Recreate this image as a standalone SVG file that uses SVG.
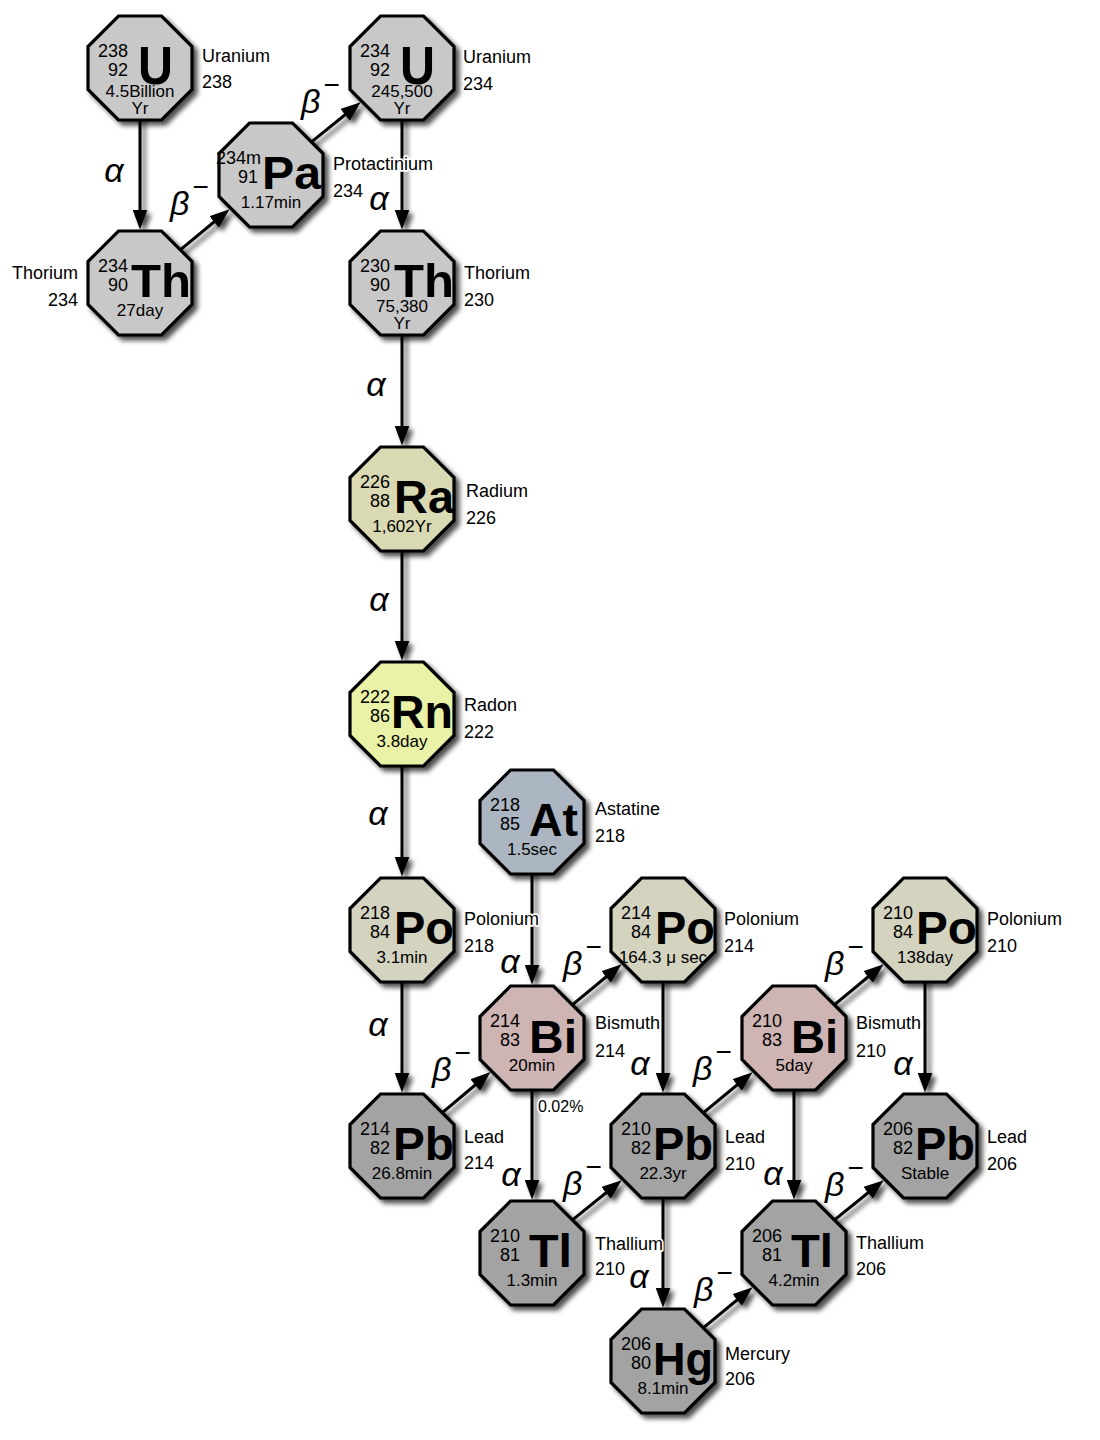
<svg xmlns="http://www.w3.org/2000/svg" xmlns:xlink="http://www.w3.org/1999/xlink" width="1100" height="1440" viewBox="0 0 1100 1440">
<style>
text{font-family:"Liberation Sans","DejaVu Sans",Arial,sans-serif;fill:#000}
.oct{stroke:#000;stroke-width:3.2;stroke-linejoin:miter;filter:url(#sh)}
.gray{fill:#c8c8c8}.ra{fill:#d9d9b3}.rn{fill:#e9f2a6}.at{fill:#abb6c2}.po{fill:#d3d3bf}.bi{fill:#cfb4b4}.pb{fill:#a3a3a3}
.num{font-size:18px;text-anchor:end}
.sym{font-size:47px;font-weight:bold}
.symU{font-size:54px;font-weight:bold}
.hl{font-size:17px;text-anchor:middle}
.lbl{font-size:18px;stroke:#fff;stroke-width:3.5px;stroke-linejoin:round;paint-order:stroke}
.lblL{font-size:18px;text-anchor:end}
.a{font-size:34px;font-style:italic;text-anchor:middle}
.b{font-size:34px;font-style:italic}
.m{font-size:28px;font-style:normal}
.conn line{stroke:#000;stroke-width:3;marker-end:url(#ah)}
</style>
<defs>
<filter id="sh" x="-20%" y="-20%" width="150%" height="150%">
<feGaussianBlur in="SourceAlpha" stdDeviation="2.5"/>
<feOffset dx="4" dy="4"/>
<feComponentTransfer><feFuncA type="linear" slope="0.7"/></feComponentTransfer>
<feMerge><feMergeNode/><feMergeNode in="SourceGraphic"/></feMerge>
</filter>
<marker id="ah" markerUnits="userSpaceOnUse" markerWidth="20" markerHeight="15" refX="10" refY="7.5" orient="auto">
<path d="M0,0 L20,7.5 L0,15 z" fill="#000"/>
</marker>
<polygon id="oct" points="-21.5,-52 21.5,-52 52,-21.5 52,21.5 21.5,52 -21.5,52 -52,21.5 -52,-21.5"/>
</defs>

<g id="connectors" class="conn" filter="url(#sh)">
<line x1="140" y1="108" x2="140" y2="219.5"/>
<line x1="402" y1="108" x2="402" y2="219.5"/>
<line x1="402" y1="323" x2="402" y2="435.5"/>
<line x1="402" y1="539" x2="402" y2="650.5"/>
<line x1="402" y1="754" x2="402" y2="866.5"/>
<line x1="402" y1="970" x2="402" y2="1082.5"/>
<line x1="532" y1="862" x2="532" y2="974.5"/>
<line x1="532" y1="1078" x2="532" y2="1189.5"/>
<line x1="663" y1="970" x2="663" y2="1082.5"/>
<line x1="663" y1="1186" x2="663" y2="1297.5"/>
<line x1="794" y1="1078" x2="794" y2="1189.5"/>
<line x1="925" y1="970" x2="925" y2="1082.5"/>
<line x1="170.9" y1="257.6" x2="221.85" y2="215.52"/>
<line x1="301.9" y1="149.6" x2="352.85" y2="108.52"/>
<line x1="432.9" y1="1120.6" x2="482.85" y2="1078.52"/>
<line x1="562.9" y1="1012.6" x2="613.85" y2="970.52"/>
<line x1="562.9" y1="1227.6" x2="613.85" y2="1186.52"/>
<line x1="693.9" y1="1120.6" x2="744.85" y2="1078.52"/>
<line x1="693.9" y1="1335.6" x2="744.85" y2="1293.52"/>
<line x1="824.9" y1="1012.6" x2="875.85" y2="970.52"/>
<line x1="824.9" y1="1227.6" x2="875.85" y2="1186.52"/>
</g>

<g id="decay-labels">
<text class="a" x="114" y="182">α</text>
<text class="a" x="379" y="210">α</text>
<text class="a" x="376" y="396">α</text>
<text class="a" x="379" y="611">α</text>
<text class="a" x="378" y="825">α</text>
<text class="a" x="378" y="1036">α</text>
<text class="a" x="510" y="973">α</text>
<text class="a" x="640" y="1075">α</text>
<text class="a" x="511" y="1186">α</text>
<text class="a" x="639" y="1288">α</text>
<text class="a" x="773" y="1185">α</text>
<text class="a" x="903" y="1075">α</text>
<text class="b" x="170" y="215">β<tspan class="m" dx="3" dy="-19">−</tspan></text>
<text class="b" x="301" y="113">β<tspan class="m" dx="3" dy="-19">−</tspan></text>
<text class="b" x="432" y="1081">β<tspan class="m" dx="3" dy="-19">−</tspan></text>
<text class="b" x="563" y="975">β<tspan class="m" dx="3" dy="-19">−</tspan></text>
<text class="b" x="563" y="1195">β<tspan class="m" dx="3" dy="-19">−</tspan></text>
<text class="b" x="693" y="1080">β<tspan class="m" dx="3" dy="-19">−</tspan></text>
<text class="b" x="694" y="1301">β<tspan class="m" dx="3" dy="-19">−</tspan></text>
<text class="b" x="825" y="975">β<tspan class="m" dx="3" dy="-19">−</tspan></text>
<text class="b" x="825" y="1196">β<tspan class="m" dx="3" dy="-19">−</tspan></text>
</g>

<g id="U238">
<g transform="translate(140,68)">
<use xlink:href="#oct" class="oct gray"/>
<text class="num" x="-12" y="-11">238</text><text class="num" x="-12" y="8">92</text>
<text class="symU" x="-2" y="16" textLength="35" lengthAdjust="spacingAndGlyphs">U</text>
<text class="hl" x="0" y="29">4.5Billion</text><text class="hl" x="0" y="46">Yr</text>
</g>
<text class="lbl" x="202" y="62">Uranium</text><text class="lbl" x="202" y="88">238</text>
</g>

<g id="Th234">
<g transform="translate(140,283)">
<use xlink:href="#oct" class="oct gray"/>
<text class="num" x="-12" y="-11">234</text><text class="num" x="-12" y="8">90</text>
<text class="sym" x="-9" y="14" textLength="60" lengthAdjust="spacingAndGlyphs">Th</text>
<text class="hl" x="0" y="33">27day</text>
</g>
<text class="lblL" x="78" y="278.5">Thorium</text><text class="lblL" x="78" y="305.5">234</text>
</g>

<g id="Pa234m">
<g transform="translate(271,175)">
<use xlink:href="#oct" class="oct gray"/>
<text class="num" x="-10" y="-11">234m</text><text class="num" x="-13" y="8">91</text>
<text class="sym" x="-9" y="14" textLength="59" lengthAdjust="spacingAndGlyphs">Pa</text>
<text class="hl" x="0" y="33">1.17min</text>
</g>
<text class="lbl" x="333" y="170">Protactinium</text><text class="lbl" x="333" y="197">234</text>
</g>

<g id="U234">
<g transform="translate(402,68)">
<use xlink:href="#oct" class="oct gray"/>
<text class="num" x="-12" y="-11">234</text><text class="num" x="-12" y="8">92</text>
<text class="symU" x="-2" y="16" textLength="35" lengthAdjust="spacingAndGlyphs">U</text>
<text class="hl" x="0" y="29">245,500</text><text class="hl" x="0" y="46">Yr</text>
</g>
<text class="lbl" x="463" y="63">Uranium</text><text class="lbl" x="463" y="90">234</text>
</g>

<g id="Th230">
<g transform="translate(402,283)">
<use xlink:href="#oct" class="oct gray"/>
<text class="num" x="-12" y="-11">230</text><text class="num" x="-12" y="8">90</text>
<text class="sym" x="-8" y="14" textLength="60" lengthAdjust="spacingAndGlyphs">Th</text>
<text class="hl" x="0" y="29">75,380</text><text class="hl" x="0" y="46">Yr</text>
</g>
<text class="lbl" x="464" y="278.5">Thorium</text><text class="lbl" x="464" y="305.5">230</text>
</g>

<g id="Ra226">
<g transform="translate(402,499)">
<use xlink:href="#oct" class="oct ra"/>
<text class="num" x="-12" y="-11">226</text><text class="num" x="-12" y="8">88</text>
<text class="sym" x="-8" y="14" textLength="60" lengthAdjust="spacingAndGlyphs">Ra</text>
<text class="hl" x="0" y="33">1,602Yr</text>
</g>
<text class="lbl" x="466" y="496.5">Radium</text><text class="lbl" x="466" y="523.5">226</text>
</g>

<g id="Rn222">
<g transform="translate(402,714)">
<use xlink:href="#oct" class="oct rn"/>
<text class="num" x="-12" y="-11">222</text><text class="num" x="-12" y="8">86</text>
<text class="sym" x="-11" y="14" textLength="62" lengthAdjust="spacingAndGlyphs">Rn</text>
<text class="hl" x="0" y="33">3.8day</text>
</g>
<text class="lbl" x="464" y="710.5">Radon</text><text class="lbl" x="464" y="737.5">222</text>
</g>

<g id="At218">
<g transform="translate(532,822)">
<use xlink:href="#oct" class="oct at"/>
<text class="num" x="-12" y="-11">218</text><text class="num" x="-12" y="8">85</text>
<text class="sym" x="-3" y="14" textLength="49" lengthAdjust="spacingAndGlyphs">At</text>
<text class="hl" x="0" y="33">1.5sec</text>
</g>
<text class="lbl" x="595" y="815">Astatine</text><text class="lbl" x="595" y="841.5">218</text>
</g>

<g id="Po218">
<g transform="translate(402,930)">
<use xlink:href="#oct" class="oct po"/>
<text class="num" x="-12" y="-11">218</text><text class="num" x="-12" y="8">84</text>
<text class="sym" x="-8" y="14" textLength="60" lengthAdjust="spacingAndGlyphs">Po</text>
<text class="hl" x="0" y="33">3.1min</text>
</g>
<text class="lbl" x="464" y="925">Polonium</text><text class="lbl" x="464" y="951.5">218</text>
</g>

<g id="Pb214">
<g transform="translate(402,1146)">
<use xlink:href="#oct" class="oct pb"/>
<text class="num" x="-12" y="-11">214</text><text class="num" x="-12" y="8">82</text>
<text class="sym" x="-9" y="14" textLength="61" lengthAdjust="spacingAndGlyphs">Pb</text>
<text class="hl" x="0" y="33">26.8min</text>
</g>
<text class="lbl" x="464" y="1142.5">Lead</text><text class="lbl" x="464" y="1169">214</text>
</g>

<g id="Bi214">
<g transform="translate(532,1038)">
<use xlink:href="#oct" class="oct bi"/>
<text class="num" x="-12" y="-11">214</text><text class="num" x="-12" y="8">83</text>
<text class="sym" x="-3" y="15" textLength="48" lengthAdjust="spacingAndGlyphs">Bi</text>
<text class="hl" x="0" y="33">20min</text>
</g>
<text class="lbl" x="595" y="1029">Bismuth</text><text class="lbl" x="595" y="1056.5">214</text>
<text class="lbl" x="538" y="1112" style="font-size:16px">0.02%</text>
</g>

<g id="Po214">
<g transform="translate(663,930)">
<use xlink:href="#oct" class="oct po"/>
<text class="num" x="-12" y="-11">214</text><text class="num" x="-12" y="8">84</text>
<text class="sym" x="-8" y="14" textLength="60" lengthAdjust="spacingAndGlyphs">Po</text>
<text class="hl" x="0" y="33">164.3 μ sec</text>
</g>
<text class="lbl" x="724" y="925">Polonium</text><text class="lbl" x="724" y="951.5">214</text>
</g>

<g id="Pb210">
<g transform="translate(663,1146)">
<use xlink:href="#oct" class="oct pb"/>
<text class="num" x="-12" y="-11">210</text><text class="num" x="-12" y="8">82</text>
<text class="sym" x="-10" y="14" textLength="60" lengthAdjust="spacingAndGlyphs">Pb</text>
<text class="hl" x="0" y="33">22.3yr</text>
</g>
<text class="lbl" x="725" y="1143">Lead</text><text class="lbl" x="725" y="1170">210</text>
</g>

<g id="Tl210">
<g transform="translate(532,1253)">
<use xlink:href="#oct" class="oct pb"/>
<text class="num" x="-12" y="-11">210</text><text class="num" x="-12" y="8">81</text>
<text class="sym" x="-3" y="14" textLength="43" lengthAdjust="spacingAndGlyphs">Tl</text>
<text class="hl" x="0" y="33">1.3min</text>
</g>
<text class="lbl" x="595" y="1250">Thallium</text><text class="lbl" x="595" y="1275">210</text>
</g>

<g id="Hg206">
<g transform="translate(663,1361)">
<use xlink:href="#oct" class="oct pb"/>
<text class="num" x="-12" y="-11">206</text><text class="num" x="-12" y="8">80</text>
<text class="sym" x="-10" y="14" textLength="60" lengthAdjust="spacingAndGlyphs">Hg</text>
<text class="hl" x="0" y="33">8.1min</text>
</g>
<text class="lbl" x="725" y="1360">Mercury</text><text class="lbl" x="725" y="1385">206</text>
</g>

<g id="Bi210">
<g transform="translate(794,1038)">
<use xlink:href="#oct" class="oct bi"/>
<text class="num" x="-12" y="-11">210</text><text class="num" x="-12" y="8">83</text>
<text class="sym" x="-3" y="15" textLength="47" lengthAdjust="spacingAndGlyphs">Bi</text>
<text class="hl" x="0" y="33">5day</text>
</g>
<text class="lbl" x="856" y="1029">Bismuth</text><text class="lbl" x="856" y="1056.5">210</text>
</g>

<g id="Tl206">
<g transform="translate(794,1253)">
<use xlink:href="#oct" class="oct pb"/>
<text class="num" x="-12" y="-11">206</text><text class="num" x="-12" y="8">81</text>
<text class="sym" x="-3" y="14" textLength="42" lengthAdjust="spacingAndGlyphs">Tl</text>
<text class="hl" x="0" y="33">4.2min</text>
</g>
<text class="lbl" x="856" y="1248.5">Thallium</text><text class="lbl" x="856" y="1275">206</text>
</g>

<g id="Po210">
<g transform="translate(925,930)">
<use xlink:href="#oct" class="oct po"/>
<text class="num" x="-12" y="-11">210</text><text class="num" x="-12" y="8">84</text>
<text class="sym" x="-9" y="14" textLength="61" lengthAdjust="spacingAndGlyphs">Po</text>
<text class="hl" x="0" y="33">138day</text>
</g>
<text class="lbl" x="987" y="925">Polonium</text><text class="lbl" x="987" y="951.5">210</text>
</g>

<g id="Pb206">
<g transform="translate(925,1146)">
<use xlink:href="#oct" class="oct pb"/>
<text class="num" x="-12" y="-11">206</text><text class="num" x="-12" y="8">82</text>
<text class="sym" x="-10" y="14" textLength="60" lengthAdjust="spacingAndGlyphs">Pb</text>
<text class="hl" x="0" y="33">Stable</text>
</g>
<text class="lbl" x="987" y="1143">Lead</text><text class="lbl" x="987" y="1170">206</text>
</g>
</svg>
